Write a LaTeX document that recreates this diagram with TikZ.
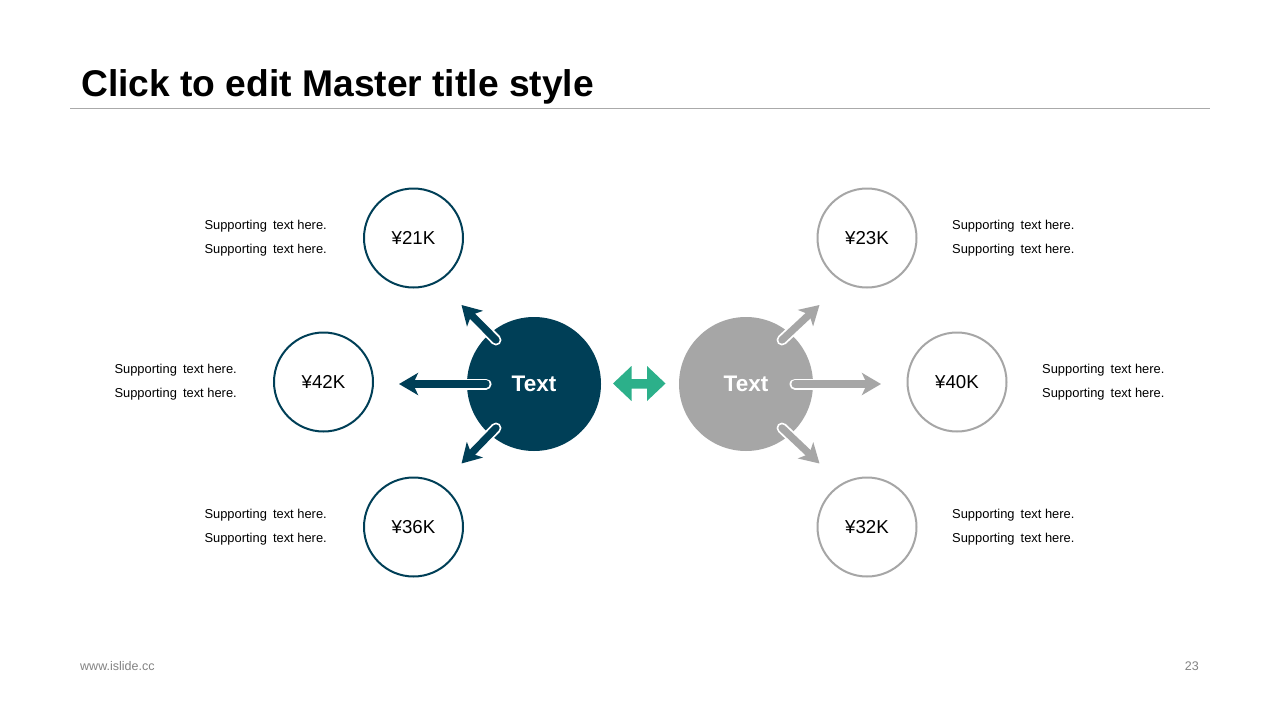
\documentclass[tikz,border=0pt]{standalone}
\usepackage{fontspec}
\setmainfont{Liberation Sans}
\usetikzlibrary{arrows.meta}
\definecolor{navy}{RGB}{0,63,87}
\definecolor{midgray}{RGB}{166,166,166}
\definecolor{accentgreen}{RGB}{44,176,138}
\definecolor{rulegray}{RGB}{170,170,170}
\definecolor{footgray}{RGB}{130,130,130}
\begin{document}
\begin{tikzpicture}[x=1pt,y=-1pt,
  hub/.style={circle, minimum size=134pt, inner sep=0pt, text=white,
    font=\bfseries\fontsize{22.5}{27}\selectfont},
  value/.style={circle, draw, line width=2pt, minimum size=99pt, inner sep=0pt,
    fill=white, font=\fontsize{18.7}{22}\selectfont},
  noteR/.style={anchor=base east, inner sep=0pt, font=\fontsize{12.9}{16}\selectfont},
  noteL/.style={anchor=base west, inner sep=0pt, font=\fontsize{12.9}{16}\selectfont},
  arrowback/.style={draw=white, line width=11pt, line cap=round},
  arrowfront/.style={line width=7.3pt, line cap=round,
    -{Stealth[length=19pt, width=22pt, inset=5pt]}}
]
\useasboundingbox (0,0) rectangle (1280,720);
\fill[white] (0,0) rectangle (1280,720);

% title and rule
\node[anchor=base west, inner sep=0pt, font=\bfseries\fontsize{37.2}{40}\selectfont] (title) at (81,96) {Click to edit Master title style};
\draw[rulegray, line width=1pt] (70,108) -- (1210,108);

% hubs
\node[hub, fill=navy] (hubL) at (534,384) {Text};
\node[hub, fill=midgray] (hubR) at (746,384) {Text};

% value circles
\node[value, draw=navy] (v21) at (413.5,238) {¥21K};
\node[value, draw=navy] (v42) at (323.5,382) {¥42K};
\node[value, draw=navy] (v36) at (413.5,527) {¥36K};
\node[value, draw=midgray] (v23) at (867,238) {¥23K};
\node[value, draw=midgray] (v40) at (957,382) {¥40K};
\node[value, draw=midgray] (v32) at (867,527) {¥32K};

% supporting texts
\node[noteR] (n21a) at (327,229) {Supporting\hspace{2.5pt} text here.};
\node[noteR] (n21b) at (327,253) {Supporting\hspace{2.5pt} text here.};
\node[noteR] (n42a) at (237,373) {Supporting\hspace{2.5pt} text here.};
\node[noteR] (n42b) at (237,397) {Supporting\hspace{2.5pt} text here.};
\node[noteR] (n36a) at (327,518) {Supporting\hspace{2.5pt} text here.};
\node[noteR] (n36b) at (327,542) {Supporting\hspace{2.5pt} text here.};
\node[noteL] (n23a) at (952,229) {Supporting\hspace{2.5pt} text here.};
\node[noteL] (n23b) at (952,253) {Supporting\hspace{2.5pt} text here.};
\node[noteL] (n40a) at (1042,373) {Supporting\hspace{2.5pt} text here.};
\node[noteL] (n40b) at (1042,397) {Supporting\hspace{2.5pt} text here.};
\node[noteL] (n32a) at (952,518) {Supporting\hspace{2.5pt} text here.};
\node[noteL] (n32b) at (952,542) {Supporting\hspace{2.5pt} text here.};

% arrow end points
\coordinate (tUL) at (496,340);
\coordinate (hUL) at (461.5,305);
\coordinate (tML) at (486,384);
\coordinate (hML) at (399,384);
\coordinate (tLL) at (496,428);
\coordinate (hLL) at (461.5,463.5);
\coordinate (tUR) at (782,340);
\coordinate (hUR) at (819.5,305);
\coordinate (tMR) at (795,384);
\coordinate (hMR) at (881,384);
\coordinate (tLR) at (782,428);
\coordinate (hLR) at (819.5,463.5);

\foreach \a/\b in {tUL/hUL,tML/hML,tLL/hLL,tUR/hUR,tMR/hMR,tLR/hLR}
  \draw[arrowback] (\a) -- (\b);
\foreach \a/\b in {tUL/hUL,tML/hML,tLL/hLL}
  \draw[arrowfront, navy] (\a) -- (\b);
\foreach \a/\b in {tUR/hUR,tMR/hMR,tLR/hLR}
  \draw[arrowfront, midgray] (\a) -- (\b);

% green double arrow
\fill[accentgreen] (613,383.5) -- (631.5,366) -- (631.5,379) -- (647,379) -- (647,366)
  -- (665.5,383.5) -- (647,401) -- (647,388.5) -- (631.5,388.5) -- (631.5,401) -- cycle;

% footer
\node[anchor=base west, inner sep=0pt, text=footgray, font=\fontsize{12.5}{14}\selectfont] (url) at (80,670) {www.islide.cc};
\node[anchor=base east, inner sep=0pt, text=footgray, font=\fontsize{12.5}{14}\selectfont] (page) at (1199,670) {23};
\end{tikzpicture}
\end{document}
